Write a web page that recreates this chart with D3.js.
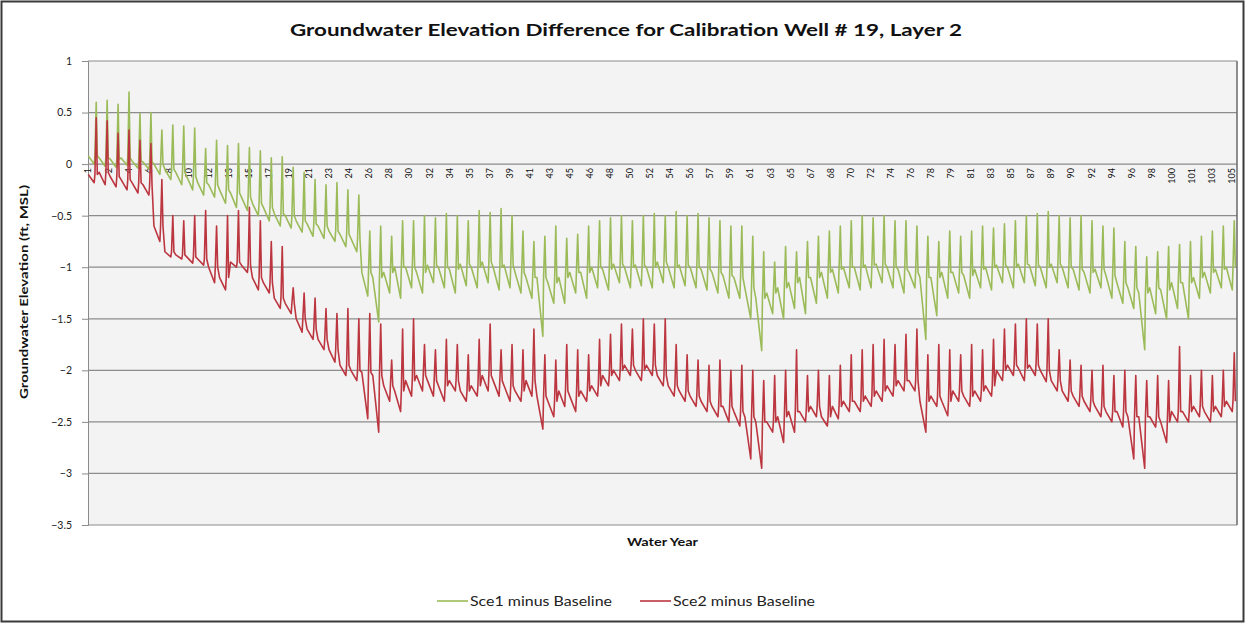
<!DOCTYPE html>
<html><head><meta charset="utf-8">
<script src="https://cdn.jsdelivr.net/npm/d3@7"></script>
<style>body{margin:0;background:#fff}svg{display:block}</style>
</head><body>
<svg id="c" width="1247" height="623"></svg>
<script>
// ---------- DATA ----------
const years = [1,2,3,4,5,6,7,8,9,10,11,12,13,14,15,16,17,18,19,20,21,22,23,24,25,26,27,28,29,30,31,32,33,34,35,36,37,38,39,40,41,42,43,44,45,46,47,48,49,50,51,52,53,54,55,56,57,58,59,60,61,62,63,64,65,66,67,68,69,70,71,72,73,74,75,76,77,78,79,80,81,82,83,84,85,86,87,88,89,90,91,92,93,94,95,96,97,98,99,100,101,102,103,104,105];
const tickLabels = [1,2,4,6,8,10,12,13,15,17,19,21,23,24,26,28,30,32,34,35,37,39,41,43,45,46,48,50,52,54,56,57,59,61,63,65,67,68,70,72,74,76,78,79,81,83,85,87,89,90,92,94,96,98,100,101,103,105];
const yTicks = [1,0.5,0,-0.5,-1,-1.5,-2,-2.5,-3,-3.5];
const seriesNames = ["Sce1 minus Baseline","Sce2 minus Baseline"];

const sce1Peak = [0.6,0.62,0.58,0.7,0.49,0.5,0.33,0.38,0.37,0.35,
 0.15,0.23,0.18,0.2,0.16,0.13,0.06,0.07,-0.03,-0.08,
 -0.15,-0.2,-0.18,-0.25,-0.3,-0.65,-0.6,-0.7,-0.55,-0.55,
 -0.5,-0.52,-0.48,-0.5,-0.55,-0.45,-0.47,-0.43,-0.5,-0.65,
 -0.75,-0.7,-0.6,-0.72,-0.68,-0.6,-0.55,-0.52,-0.5,-0.55,
 -0.5,-0.48,-0.5,-0.46,-0.5,-0.48,-0.52,-0.55,-0.6,-0.6,
 -0.7,-0.85,-0.95,-0.8,-0.85,-0.75,-0.7,-0.65,-0.6,-0.55,
 -0.5,-0.52,-0.5,-0.55,-0.55,-0.6,-0.7,-0.75,-0.65,-0.7,
 -0.65,-0.6,-0.62,-0.58,-0.55,-0.5,-0.48,-0.46,-0.5,-0.52,
 -0.5,-0.55,-0.6,-0.62,-0.75,-0.8,-0.9,-0.85,-0.8,-0.78,
 -0.75,-0.7,-0.65,-0.6,-0.55];
const sce1Level = [0.08,0.06,0.05,0.06,0.03,0.02,0.0,-0.05,-0.08,-0.12,
 -0.18,-0.2,-0.25,-0.28,-0.32,-0.38,-0.42,-0.48,-0.5,-0.55,
 -0.58,-0.6,-0.65,-0.68,-0.72,-1.05,-1.1,-1.05,-1.0,-1.0,
 -1.05,-0.98,-1.0,-1.02,-0.97,-1.0,-0.95,-1.0,-0.98,-1.05,
 -1.1,-1.1,-1.15,-1.1,-1.05,-1.05,-1.0,-1.02,-0.97,-1.0,
 -0.98,-1.0,-0.95,-1.0,-0.98,-1.0,-1.02,-1.05,-1.08,-1.1,
 -1.2,-1.3,-1.25,-1.2,-1.15,-1.1,-1.1,-1.05,-1.02,-1.0,
 -1.0,-0.98,-0.97,-1.0,-1.02,-1.05,-1.1,-1.1,-1.05,-1.05,
 -1.08,-1.02,-1.0,-0.98,-1.0,-0.97,-0.98,-1.0,-0.97,-1.0,
 -1.02,-1.05,-1.02,-1.08,-1.15,-1.2,-1.25,-1.2,-1.22,-1.15,
 -1.15,-1.1,-1.05,-1.02,-1.0];
const sce1Low = [0.0,-0.02,-0.03,-0.01,-0.04,-0.05,-0.1,-0.15,-0.2,-0.25,
 -0.3,-0.32,-0.38,-0.42,-0.45,-0.5,-0.55,-0.6,-0.62,-0.66,
 -0.7,-0.72,-0.75,-0.8,-0.85,-1.28,-1.53,-1.25,-1.3,-1.2,
 -1.25,-1.15,-1.2,-1.25,-1.18,-1.2,-1.15,-1.22,-1.2,-1.25,
 -1.3,-1.67,-1.35,-1.35,-1.25,-1.3,-1.2,-1.22,-1.15,-1.2,
 -1.18,-1.2,-1.15,-1.2,-1.18,-1.2,-1.22,-1.25,-1.3,-1.3,
 -1.5,-1.81,-1.45,-1.5,-1.4,-1.45,-1.35,-1.3,-1.25,-1.2,
 -1.22,-1.2,-1.15,-1.2,-1.25,-1.2,-1.7,-1.47,-1.3,-1.25,
 -1.3,-1.2,-1.22,-1.15,-1.2,-1.15,-1.18,-1.2,-1.15,-1.2,
 -1.22,-1.25,-1.2,-1.3,-1.35,-1.4,-1.8,-1.45,-1.5,-1.4,
 -1.5,-1.3,-1.25,-1.2,-1.22];

const sce2Peak = [0.45,0.42,0.3,0.33,0.23,0.2,-0.15,-0.5,-0.55,-0.5,
 -0.45,-0.6,-0.5,-0.45,-0.42,-0.55,-0.75,-0.8,-1.2,-1.25,
 -1.3,-1.4,-1.45,-1.4,-1.5,-1.45,-1.55,-1.9,-1.6,-1.5,
 -1.75,-1.8,-1.7,-1.75,-1.85,-1.7,-1.55,-1.8,-1.75,-1.8,
 -1.6,-1.85,-1.9,-1.75,-1.8,-1.85,-1.7,-1.65,-1.55,-1.6,
 -1.5,-1.55,-1.5,-1.75,-1.85,-1.9,-1.95,-1.9,-2.0,-1.95,
 -2.0,-2.1,-2.05,-2.0,-1.8,-2.05,-2.0,-2.05,-1.95,-1.85,
 -1.8,-1.75,-1.7,-1.75,-1.65,-1.6,-1.85,-1.75,-1.8,-1.85,
 -1.75,-1.8,-1.7,-1.6,-1.55,-1.5,-1.55,-1.5,-1.8,-1.9,
 -1.95,-2.0,-1.95,-2.05,-2.0,-2.05,-2.1,-2.05,-2.1,-1.77,
 -2.05,-2.0,-2.05,-2.0,-1.83];
const sce2Level = [-0.1,-0.08,-0.12,-0.15,-0.18,-0.2,-0.6,-0.85,-0.88,-0.9,
 -0.92,-1.0,-1.1,-0.95,-0.98,-1.1,-1.15,-1.3,-1.35,-1.5,
 -1.6,-1.7,-1.8,-1.95,-2.0,-2.02,-2.05,-2.15,-2.2,-2.1,
 -2.05,-2.1,-2.15,-2.1,-2.2,-2.15,-2.05,-2.1,-2.15,-2.2,
 -2.1,-2.25,-2.3,-2.2,-2.25,-2.2,-2.15,-2.05,-2.0,-1.95,
 -2.0,-1.95,-2.05,-2.15,-2.2,-2.25,-2.3,-2.35,-2.35,-2.4,
 -2.45,-2.5,-2.5,-2.45,-2.4,-2.4,-2.35,-2.45,-2.35,-2.3,
 -2.3,-2.25,-2.2,-2.15,-2.1,-2.1,-2.3,-2.25,-2.3,-2.2,
 -2.25,-2.2,-2.15,-2.0,-1.95,-1.98,-1.95,-2.0,-2.1,-2.2,
 -2.25,-2.3,-2.35,-2.4,-2.4,-2.45,-2.45,-2.45,-2.5,-2.4,
 -2.4,-2.35,-2.4,-2.35,-2.3];
const sce2Low = [-0.18,-0.2,-0.22,-0.25,-0.28,-0.3,-0.75,-0.9,-0.92,-0.96,
 -0.98,-1.15,-1.22,-1.0,-1.05,-1.22,-1.25,-1.4,-1.45,-1.63,
 -1.7,-1.8,-1.92,-2.05,-2.1,-2.47,-2.6,-2.3,-2.4,-2.25,
 -2.2,-2.25,-2.3,-2.2,-2.3,-2.25,-2.2,-2.25,-2.3,-2.3,
 -2.25,-2.57,-2.45,-2.35,-2.4,-2.3,-2.25,-2.15,-2.1,-2.05,
 -2.1,-2.05,-2.15,-2.25,-2.3,-2.35,-2.4,-2.45,-2.5,-2.54,
 -2.86,-2.95,-2.6,-2.7,-2.6,-2.5,-2.45,-2.54,-2.47,-2.4,
 -2.4,-2.35,-2.3,-2.25,-2.2,-2.2,-2.6,-2.35,-2.44,-2.3,
 -2.35,-2.3,-2.25,-2.1,-2.05,-2.1,-2.05,-2.11,-2.2,-2.3,
 -2.35,-2.4,-2.45,-2.5,-2.55,-2.86,-2.95,-2.55,-2.7,-2.5,
 -2.5,-2.45,-2.5,-2.45,-2.4];

// ---------- LAYOUT ----------
const W = 1247, H = 623;
const P = {l: 88, r: 1237, t: 61, b: 525};
const MONTHS = 12;
const FONT = "Lato, 'Open Sans', sans-serif";
const svg = d3.select("#c");

// outer chart frame
svg.append("rect").attr("x", 1.5).attr("y", 1.5).attr("width", W - 5).attr("height", H - 3)
  .attr("fill", "#fff").attr("stroke", "#3a3a3a").attr("stroke-width", 2);

const x = d3.scaleLinear().domain([0, years.length * MONTHS]).range([P.l, P.r]);
const y = d3.scaleLinear().domain([-3.5, 1]).range([P.b, P.t]);

// plot area
svg.append("rect").attr("x", P.l).attr("y", P.t).attr("width", P.r - P.l).attr("height", P.b - P.t)
  .attr("fill", "#f3f3f3");

// y axis
const yAxis = d3.axisLeft(y).tickValues(yTicks).tickSize(6).tickPadding(10)
  .tickFormat(d => d3.format("")(d));
const gy = svg.append("g").attr("transform", `translate(${P.l},0)`).call(yAxis);
gy.select(".domain").attr("stroke", "#8a8a8a");
gy.selectAll(".tick line").attr("stroke", "#8a8a8a");
gy.selectAll(".tick text").attr("font-family", FONT).attr("font-size", 10.5).attr("fill", "#222");

// gridlines
svg.append("g").selectAll("line").data(yTicks).join("line")
  .attr("x1", P.l).attr("x2", P.r).attr("y1", d => y(d)).attr("y2", d => y(d))
  .attr("stroke", "#8c8c8c").attr("stroke-width", 1.2);

// right border of plot
svg.append("line").attr("x1", P.r).attr("x2", P.r).attr("y1", P.t).attr("y2", P.b)
  .attr("stroke", "#6a6a6a").attr("stroke-width", 1.5);

// category axis labels on zero line (rotated)
const tickStep = 22;
svg.append("g").selectAll("text").data(tickLabels).join("text")
  .attr("transform", (d, i) => `translate(${x(i * tickStep + 0.5) + 3},${y(0) + 4}) rotate(-90)`)
  .attr("text-anchor", "end")
  .attr("font-family", FONT).attr("font-size", 9).attr("fill", "#111")
  .text(d => d);

// series
function build(level, low, peak) {
  const pts = [];
  years.forEach((yr, k) => {
    const m0 = (yr - 1) * MONTHS;
    pts.push([m0 + 0.3, level[k]], [m0 + 6.8, low[k]], [m0 + 7.6, level[k]],
             [m0 + 9.0, peak[k]], [m0 + 10.2, level[k]]);
  });
  return pts;
}
const line = d3.line().x(d => x(d[0])).y(d => y(d[1]));
const colors = ["#9bbb59", "#bc3640"];
const series = [build(sce1Level, sce1Low, sce1Peak), build(sce2Level, sce2Low, sce2Peak)];
svg.append("g").selectAll("path").data(series).join("path")
  .attr("d", line).attr("fill", "none")
  .attr("stroke", (d, i) => colors[i]).attr("stroke-width", 1.6).attr("stroke-linejoin", "round");

// titles
svg.append("text").attr("x", 626).attr("y", 36).attr("text-anchor", "middle")
  .attr("font-family", FONT).attr("font-weight", "bold").attr("font-size", 17).attr("fill", "#111")
  .attr("textLength", 672).attr("lengthAdjust", "spacingAndGlyphs")
  .text("Groundwater Elevation Difference for Calibration Well # 19, Layer 2");

svg.append("text").attr("x", (P.l + P.r) / 2).attr("y", 546).attr("text-anchor", "middle")
  .attr("font-family", FONT).attr("font-weight", "bold").attr("font-size", 12).attr("fill", "#111")
  .attr("textLength", 71).attr("lengthAdjust", "spacingAndGlyphs")
  .text("Water Year");

svg.append("text").attr("transform", `translate(28,292) rotate(-90)`).attr("text-anchor", "middle")
  .attr("font-family", FONT).attr("font-weight", "bold").attr("font-size", 12).attr("fill", "#111")
  .attr("textLength", 214).attr("lengthAdjust", "spacingAndGlyphs")
  .text("Groundwater Elevation (ft, MSL)");

// legend
const legX = [437, 640];
const lg = svg.append("g").selectAll("g").data(seriesNames).join("g")
  .attr("transform", (d, i) => `translate(${legX[i]},601)`);
lg.append("line").attr("x1", 0).attr("x2", 31).attr("y1", 0).attr("y2", 0)
  .attr("stroke", (d, i) => colors[i]).attr("stroke-width", 1.6);
lg.append("text").attr("x", 33).attr("y", 4.5)
  .attr("font-family", FONT).attr("font-size", 13).attr("fill", "#222")
  .attr("textLength", 142).attr("lengthAdjust", "spacingAndGlyphs")
  .text(d => d);
</script>
</body></html>
